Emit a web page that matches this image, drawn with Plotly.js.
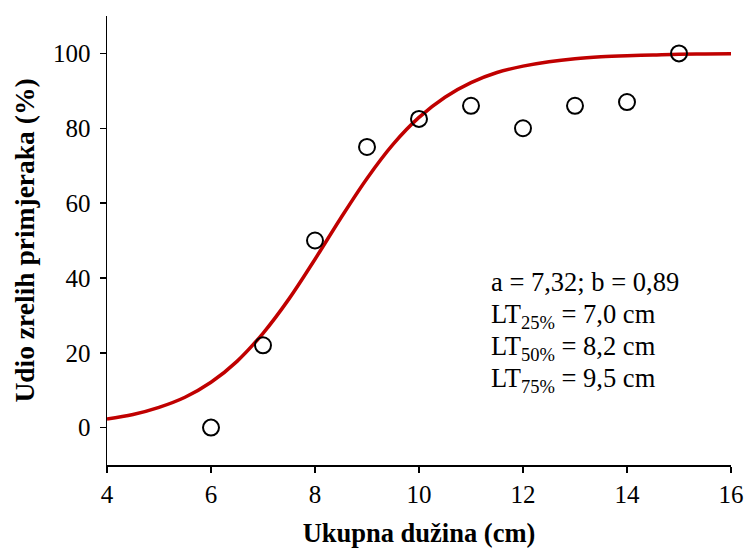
<!DOCTYPE html>
<html><head><meta charset="utf-8">
<script src="https://cdn.plot.ly/plotly-3.0.1.min.js"></script>
<style>body{margin:0;background:#fff}#chart{width:747px;height:554px}</style>
</head><body><div id="chart"></div>
<script>
// Observed maturity points
const lengths = [6, 7, 8, 9, 10, 11, 12, 13, 14, 15];
const matureShare = [0, 22, 50, 75, 82.5, 86, 80, 86, 87, 100];
// Fitted curve
const curveX = [4, 4.5, 5, 5.5, 6, 6.5, 7, 7.5, 8, 8.5, 9, 9.5, 10, 10.5, 11, 11.5, 12, 12.5, 13, 13.5, 14, 14.5, 15, 15.5, 16];
const curveY = [2.3, 3.5, 5.4, 8.1, 12.1, 17.7, 25.2, 34.4, 45.0, 56.1, 66.6, 75.7, 82.9, 88.3, 92.2, 94.9, 96.6, 97.8, 98.6, 99.1, 99.4, 99.6, 99.8, 99.85, 99.9];
const xTicks = [4, 6, 8, 10, 12, 14, 16];
const yTicks = [0, 20, 40, 60, 80, 100];
const infoLines = ["a = 7,32; b = 0,89", "LT<sub>25%</sub> = 7,0 cm", "LT<sub>50%</sub> = 8,2 cm", "LT<sub>75%</sub> = 9,5 cm"];

const font = "Liberation Serif, Times New Roman, serif";
const data = [
  {x: curveX, y: curveY, mode: 'lines', line: {color: '#C00000', width: 3.5, shape: 'spline'}, hoverinfo: 'skip'},
  {x: lengths, y: matureShare, mode: 'markers', marker: {symbol: 'circle-open', size: 16, color: '#000', line: {width: 2, color: '#000'}}}
];
const lineTop = 0.446, lineStep = 0.0713;
const annotations = infoLines.map(function(t, i){
  return {
    xref: 'paper', yref: 'paper', x: 0.612, y: lineTop - i * lineStep, xanchor: 'left', yanchor: 'top',
    align: 'left', showarrow: false, text: t,
    font: {family: font, size: 26.5, color: '#000'}
  };
});
const layout = {
  width: 747, height: 554,
  margin: {l: 107, r: 16, t: 16, b: 89},
  paper_bgcolor: '#fff', plot_bgcolor: '#fff',
  showlegend: false,
  font: {family: font, size: 25, color: '#000'},
  xaxis: {
    range: [4, 16], tickvals: xTicks, ticktext: xTicks.map(String),
    showgrid: false, zeroline: false, showline: true, linecolor: '#000', linewidth: 1.5,
    ticks: 'outside', ticklen: 6, tickwidth: 1.5, tickcolor: '#000',
    tickfont: {family: font, size: 25},
    title: {text: '<b>Ukupna dužina (cm)</b>', font: {family: font, size: 26.5}, standoff: 17}
  },
  yaxis: {
    range: [-10, 110], tickvals: yTicks, ticktext: yTicks.map(String),
    showgrid: false, zeroline: false, showline: true, linecolor: '#000', linewidth: 1.5,
    ticks: 'outside', ticklen: 6, tickwidth: 1.5, tickcolor: '#000',
    ticklabelstandoff: 4,
    tickfont: {family: font, size: 25},
    title: {text: '<b>Udio zrelih primjeraka (%)</b>', font: {family: font, size: 27.5}, standoff: 10}
  },
  annotations: annotations
};
Plotly.newPlot('chart', data, layout, {displayModeBar: false, staticPlot: true});
</script></body></html>
